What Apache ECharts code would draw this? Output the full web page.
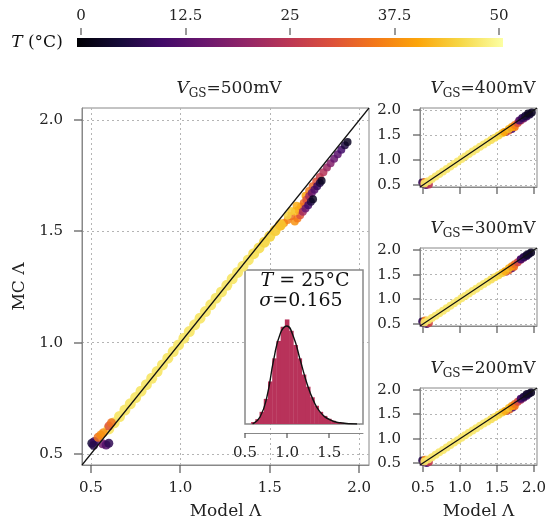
<!DOCTYPE html>
<html>
<head>
<meta charset="utf-8">
<script src="https://cdn.jsdelivr.net/npm/echarts@6/dist/echarts.min.js"></script>
<style>
html, body { margin: 0; padding: 0; background: #fff; }
#chart { width: 559px; height: 525px; }
</style>
</head>
<body>
<div id="chart"></div>
<script>
// inferno colour map, T from 0 to 50 degC
const inferno = ['#000004', '#160b39', '#420a68', '#6a176e', '#932667', '#bc3754',
                 '#dd513a', '#f37819', '#fca50a', '#f6d746', '#fcffa4'];
const tempTicks = [0, 12.5, 25, 37.5, 50];
const lamTicks = [0.5, 1.0, 1.5, 2.0];
const insetTicks = [0.5, 1.0, 1.5];

// [model, MC, T] -- VGS = 500mV
const main500Streaks = [
  [1.70, 1.660, 40], [1.72, 1.682, 36], [1.74, 1.703, 33], [1.76, 1.724, 30], [1.78, 1.745, 27],
  [1.80, 1.766, 24], [1.82, 1.787, 21], [1.84, 1.807, 18], [1.86, 1.827, 15], [1.88, 1.847, 13],
  [1.90, 1.867, 10], [1.92, 1.887, 6], [1.935, 1.902, 3],
  [1.66, 1.596, 38], [1.675, 1.612, 36], [1.69, 1.628, 34], [1.705, 1.643, 30], [1.72, 1.658, 22],
  [1.735, 1.673, 15], [1.75, 1.688, 12], [1.765, 1.703, 9], [1.78, 1.718, 6], [1.79, 1.728, 3],
  [1.64, 1.545, 38], [1.655, 1.558, 35], [1.67, 1.573, 30], [1.685, 1.588, 22], [1.70, 1.603, 15],
  [1.715, 1.618, 10], [1.73, 1.633, 6], [1.742, 1.645, 3],
  [1.56, 1.522, 40], [1.58, 1.538, 38], [1.60, 1.552, 36], [1.62, 1.568, 34], [1.64, 1.590, 42],
  [1.60, 1.572, 45], [1.62, 1.592, 44], [1.65, 1.615, 41]
];
const main500Cluster = [
  [0.505, 0.548, 5], [0.52, 0.556, 9], [0.515, 0.538, 7], [0.565, 0.545, 16], [0.585, 0.540, 12],
  [0.60, 0.548, 8], [0.54, 0.575, 34], [0.555, 0.585, 37], [0.57, 0.595, 38], [0.60, 0.625, 30],
  [0.615, 0.640, 34]
];
const main500Band = [
  [0.60, 0.612, 47], [0.63, 0.640, 47], [0.66, 0.668, 47], [0.69, 0.697, 47], [0.72, 0.725, 47],
  [0.75, 0.753, 47], [0.78, 0.782, 47], [0.81, 0.811, 47], [0.84, 0.840, 47], [0.87, 0.870, 47],
  [0.90, 0.900, 47], [0.93, 0.930, 47], [0.96, 0.960, 47], [0.99, 0.990, 47], [1.02, 1.020, 47],
  [1.05, 1.050, 47], [1.08, 1.080, 47], [1.11, 1.110, 47], [1.14, 1.140, 47], [1.17, 1.170, 47],
  [1.20, 1.200, 47], [1.23, 1.228, 47], [1.26, 1.258, 47], [1.29, 1.287, 47], [1.32, 1.316, 47],
  [1.35, 1.344, 47], [1.38, 1.372, 47], [1.41, 1.400, 46], [1.44, 1.426, 46], [1.47, 1.452, 45],
  [1.50, 1.478, 45], [1.53, 1.504, 44], [1.56, 1.530, 43]
];

// VGS = 400 / 300 / 200 mV
const sub400 = [
  [0.49, 0.55, 8], [0.51, 0.53, 18], [0.54, 0.50, 10], [0.58, 0.51, 25], [0.53, 0.56, 35],
  [1.62, 1.56, 20], [1.66, 1.59, 30], [1.70, 1.62, 12], [1.74, 1.66, 35],
  [0.52, 0.53, 47], [0.57, 0.575, 47], [0.62, 0.62, 47], [0.67, 0.67, 47], [0.72, 0.72, 47],
  [0.77, 0.77, 47], [0.82, 0.82, 47], [0.87, 0.87, 47], [0.92, 0.92, 47], [0.97, 0.97, 47],
  [1.02, 1.02, 47], [1.07, 1.07, 47], [1.12, 1.12, 47], [1.17, 1.17, 47], [1.22, 1.215, 47],
  [1.27, 1.265, 47], [1.32, 1.31, 47], [1.37, 1.355, 47], [1.42, 1.40, 46], [1.47, 1.445, 46],
  [1.52, 1.49, 45], [1.57, 1.535, 44], [1.60, 1.56, 40],
  [1.66, 1.62, 42], [1.70, 1.66, 40], [1.74, 1.70, 36], [1.78, 1.74, 30], [1.82, 1.79, 24],
  [1.86, 1.83, 16], [1.90, 1.87, 10], [1.94, 1.91, 6], [1.97, 1.95, 3],
  [1.80, 1.79, 12], [1.84, 1.84, 8], [1.88, 1.88, 5], [1.92, 1.93, 3]
];
const sub300 = [
  [0.49, 0.55, 8], [0.51, 0.52, 14], [0.55, 0.50, 9], [0.58, 0.52, 28], [0.53, 0.57, 36],
  [1.62, 1.56, 24], [1.66, 1.59, 32], [1.70, 1.63, 14], [1.73, 1.66, 33],
  [0.52, 0.53, 47], [0.57, 0.575, 47], [0.62, 0.62, 47], [0.67, 0.67, 47], [0.72, 0.72, 47],
  [0.77, 0.77, 47], [0.82, 0.82, 47], [0.87, 0.87, 47], [0.92, 0.92, 47], [0.97, 0.97, 47],
  [1.02, 1.02, 47], [1.07, 1.07, 47], [1.12, 1.12, 47], [1.17, 1.17, 47], [1.22, 1.215, 47],
  [1.27, 1.265, 47], [1.32, 1.31, 47], [1.37, 1.355, 47], [1.42, 1.40, 46], [1.47, 1.445, 46],
  [1.52, 1.49, 45], [1.57, 1.535, 44], [1.61, 1.57, 41],
  [1.66, 1.63, 42], [1.70, 1.67, 38], [1.74, 1.71, 34], [1.78, 1.75, 28], [1.82, 1.80, 22],
  [1.86, 1.84, 15], [1.90, 1.88, 9], [1.93, 1.92, 5], [1.96, 1.95, 3],
  [1.82, 1.81, 10], [1.86, 1.86, 7], [1.90, 1.90, 4]
];
const sub200 = [
  [0.49, 0.55, 7], [0.51, 0.52, 15], [0.55, 0.50, 10], [0.58, 0.52, 26], [0.53, 0.57, 36],
  [1.63, 1.57, 22], [1.67, 1.60, 33], [1.71, 1.64, 12], [1.74, 1.67, 34],
  [0.52, 0.53, 47], [0.57, 0.575, 47], [0.62, 0.62, 47], [0.67, 0.67, 47], [0.72, 0.72, 47],
  [0.77, 0.77, 47], [0.82, 0.82, 47], [0.87, 0.87, 47], [0.92, 0.92, 47], [0.97, 0.97, 47],
  [1.02, 1.02, 47], [1.07, 1.07, 47], [1.12, 1.12, 47], [1.17, 1.17, 47], [1.22, 1.215, 47],
  [1.27, 1.265, 47], [1.32, 1.31, 47], [1.37, 1.355, 47], [1.42, 1.40, 46], [1.47, 1.445, 46],
  [1.52, 1.49, 45], [1.57, 1.535, 44], [1.61, 1.57, 41],
  [1.66, 1.63, 43], [1.70, 1.67, 39], [1.74, 1.71, 35], [1.78, 1.76, 29], [1.82, 1.80, 22],
  [1.86, 1.84, 15], [1.90, 1.88, 9], [1.93, 1.92, 5], [1.96, 1.95, 3],
  [1.82, 1.82, 10], [1.86, 1.86, 6], [1.90, 1.91, 4]
];

// inset: MC histogram at T = 25 degC and fitted density
const histCenters = [0.60, 0.65, 0.70, 0.75, 0.80, 0.85, 0.90, 0.95, 1.00, 1.05, 1.10, 1.15,
                     1.20, 1.25, 1.30, 1.35, 1.40, 1.45, 1.50, 1.55, 1.60, 1.65, 1.70, 1.75];
const histDensity = [0.05, 0.12, 0.30, 0.62, 1.05, 1.62, 2.05, 2.40, 2.58, 2.30, 1.95, 1.62,
                     1.22, 0.92, 0.66, 0.45, 0.30, 0.20, 0.13, 0.08, 0.05, 0.03, 0.02, 0.01];
const fitX = [0.59, 0.68, 0.76, 0.84, 0.92, 0.996, 1.075, 1.155, 1.235, 1.31, 1.39, 1.51, 1.63, 1.83];
const fitY = [0.00, 0.18, 0.67, 1.58, 2.24, 2.42, 2.15, 1.58, 1.00, 0.59, 0.30, 0.10, 0.03, 0.00];

const FONT = 'DejaVu Serif';
const tickColor = '#555';
const gridLine = { show: true, lineStyle: { color: '#b4b4b4', type: [2, 3], width: 1 } };
const fmt = v => v.toFixed(1);

function lamAxis(grid, min, max, withLabels, isX, name) {
  return {
    type: 'value', gridIndex: grid, min: min, max: max,
    axisLine: { show: true, onZero: false, lineStyle: { color: '#888' } },
    axisTick: { show: false, customValues: lamTicks },
    axisLabel: { show: withLabels, customValues: lamTicks, formatter: fmt, color: '#222',
                 fontSize: 15, fontFamily: FONT, margin: isX ? 16 : 19 },
    splitLine: gridLine,
    name: name || '', nameLocation: 'middle', nameGap: isX ? 38 : 48,
    nameTextStyle: { fontSize: 17, fontFamily: FONT, color: '#222', fontWeight: 'normal' }
  };
}

const titleRich = {
  v: { fontStyle: 'italic', fontWeight: 'normal', fontSize: 17, fontFamily: FONT, lineHeight: 22,
       verticalAlign: 'middle', color: '#222' },
  s: { fontWeight: 'normal', fontSize: 12, fontFamily: FONT, lineHeight: 13, verticalAlign: 'bottom', color: '#222' },
  n: { fontWeight: 'normal', fontSize: 17, fontFamily: FONT, lineHeight: 22, verticalAlign: 'middle', color: '#222' }
};
function vgsTitle(mv, x, y) {
  return { text: '{v|V}{s|GS}{n|=' + mv + 'mV}', left: x, top: y, textAlign: 'center',
           textStyle: { fontWeight: 'normal', rich: titleRich } };
}

function diag(x, y, lo, hi) {
  return { type: 'line', xAxisIndex: x, yAxisIndex: y, data: [[lo, lo], [hi, hi]],
           symbol: 'none', lineStyle: { color: '#111', width: 1.2 }, z: 5, silent: true };
}
function cloud(x, y, data, size, opacity) {
  return { type: 'scatter', xAxisIndex: x, yAxisIndex: y, data: data, symbolSize: size,
           itemStyle: { opacity: opacity }, silent: true };
}
// short tick marks drawn as little filled rects; anchor from the axis scale, offsets in px
function ticks(axis, data, vertical, from, to) {
  return {
    type: 'custom', xAxisIndex: axis, yAxisIndex: axis, data: data, clip: false, silent: true, z: 6,
    renderItem: (params, api) => {
      const p = api.coord([api.value(0), api.value(1)]);
      const x = Math.round(p[0]), y = Math.round(p[1]);
      const shape = vertical
        ? { x: x - 0.6, y: y + Math.min(from, to), width: 1.2, height: Math.abs(to - from) }
        : { x: x + Math.min(from, to), y: y - 0.6, width: Math.abs(to - from), height: 1.2 };
      return { type: 'rect', shape: shape, style: { fill: tickColor } };
    }
  };
}

const MLO = 0.45, MHI = 2.055, SLO = 0.46, SHI = 2.04;

// colour bar drawn as a gradient strip of the same map
const barStops = inferno.map((c, i) => ({ offset: i / (inferno.length - 1), color: c }));

const tickSeries = [
  ticks(0, tempTicks.map(t => [t, 1]), true, -10, -3),
  ticks(2, insetTicks.map(v => [v, 0]), true, 9, 14)
];
[[1, MLO, 8], [3, SLO, 7], [4, SLO, 7], [5, SLO, 7]].forEach(([g, lo, len]) => {
  tickSeries.push(ticks(g, lamTicks.map(v => [v, lo]), true, 0, len));
  tickSeries.push(ticks(g, lamTicks.map(v => [lo, v]), false, -len, 0));
});

const chart = echarts.init(document.getElementById('chart'), null, { renderer: 'canvas' });
chart.setOption({
  animation: false,
  textStyle: { fontFamily: FONT },
  title: [vgsTitle(500, 224, 73), vgsTitle(400, 478, 73), vgsTitle(300, 478, 213), vgsTitle(200, 478, 353)],
  visualMap: {
    type: 'continuous', show: false, min: 0, max: 50, dimension: 2,
    seriesIndex: [0, 1, 2, 6, 8, 10], inRange: { color: inferno }
  },
  grid: [
    { left: 81, top: 38, width: 418, height: 9 },
    { left: 82, top: 108, width: 287, height: 357, show: true, borderColor: '#888', borderWidth: 1 },
    { left: 245, top: 270, width: 118, height: 154 },
    { left: 420, top: 108, width: 117, height: 79, show: true, borderColor: '#888', borderWidth: 1 },
    { left: 420, top: 248, width: 117, height: 78, show: true, borderColor: '#888', borderWidth: 1 },
    { left: 420, top: 388, width: 117, height: 77, show: true, borderColor: '#888', borderWidth: 1 }
  ],
  xAxis: [
    { type: 'value', gridIndex: 0, min: 0, max: 50, interval: 12.5, position: 'top', offset: 3,
      axisLine: { show: false }, splitLine: { show: false }, axisTick: { show: false },
      axisLabel: { color: '#222', fontSize: 15, fontFamily: FONT, margin: 11 } },
    lamAxis(1, MLO, MHI, true, true, 'Model Λ'),
    { type: 'value', gridIndex: 2, min: 0.5, max: 1.9, interval: 0.5, offset: 9,
      axisLine: { show: true, onZero: false, lineStyle: { color: '#888' } }, splitLine: { show: false },
      axisTick: { show: false },
      axisLabel: { formatter: fmt, showMaxLabel: false, color: '#222', fontSize: 15,
                   fontFamily: FONT, margin: 13 } },
    lamAxis(3, SLO, SHI, false, true),
    lamAxis(4, SLO, SHI, false, true),
    lamAxis(5, SLO, SHI, true, true, 'Model Λ')
  ],
  yAxis: [
    { type: 'value', gridIndex: 0, min: 0, max: 1, show: false },
    lamAxis(1, MLO, MHI, true, false, 'MC Λ'),
    { type: 'value', gridIndex: 2, min: 0, max: 3.8, show: false },
    lamAxis(3, SLO, SHI, true, false),
    lamAxis(4, SLO, SHI, true, false),
    lamAxis(5, SLO, SHI, true, false)
  ],
  graphic: [
    { type: 'rect', shape: { x: 77, y: 38, width: 426, height: 9 },
      style: { fill: new echarts.graphic.LinearGradient(0, 0, 1, 0, barStops) } },
    { type: 'rect', shape: { x: 245, y: 270, width: 118, height: 154 }, z: 1,
      style: { fill: '#fff', stroke: '#888', lineWidth: 1.5 } },
    { type: 'text', x: 305, y: 281, z: 10,
      style: { text: '{i|T} = 25°C', textAlign: 'center', textVerticalAlign: 'middle',
               fontSize: 19, fontFamily: FONT, fill: '#111',
               rich: { i: { fontStyle: 'italic', fontSize: 19, fontFamily: FONT } } } },
    { type: 'text', x: 301, y: 301, z: 10,
      style: { text: '{i|σ}=0.165', textAlign: 'center', textVerticalAlign: 'middle',
               fontSize: 19, fontFamily: FONT, fill: '#111',
               rich: { i: { fontStyle: 'italic', fontSize: 19, fontFamily: FONT } } } },
    { type: 'text', x: 37, y: 43,
      style: { text: '{i|T} (°C)', textAlign: 'center', textVerticalAlign: 'middle',
               fontSize: 17, fontFamily: FONT, fill: '#111',
               rich: { i: { fontStyle: 'italic', fontSize: 17, fontFamily: FONT } } } }
  ],
  series: [
    cloud(1, 1, main500Streaks, 8, 0.85),
    cloud(1, 1, main500Band, 11, 0.95),
    cloud(1, 1, main500Cluster, 9, 0.85),
    diag(1, 1, MLO, MHI),
    { type: 'bar', xAxisIndex: 2, yAxisIndex: 2, barWidth: 4.6, z: 3, silent: true,
      data: histCenters.map((c, i) => [c, histDensity[i]]),
      itemStyle: { color: '#b8325a' } },
    { type: 'line', xAxisIndex: 2, yAxisIndex: 2, smooth: true, symbol: 'none', z: 4, silent: true,
      data: fitX.map((c, i) => [c, fitY[i]]), lineStyle: { color: '#111', width: 1.4 } },
    cloud(3, 3, sub400, 8, 0.9), diag(3, 3, SLO, SHI),
    cloud(4, 4, sub300, 8, 0.9), diag(4, 4, SLO, SHI),
    cloud(5, 5, sub200, 8, 0.9), diag(5, 5, SLO, SHI)
  ].concat(tickSeries)
});
</script>
</body>
</html>
